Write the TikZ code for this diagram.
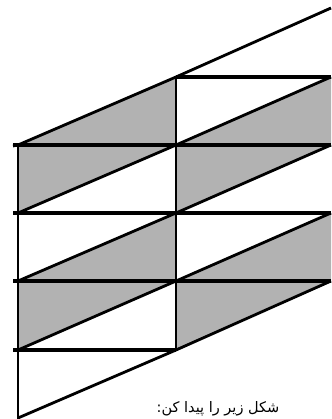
\documentclass[tikz,border=0pt]{standalone}
\usepackage{fontspec}
\newfontfamily\persianfont[Script=Arabic]{DejaVu Sans}
\TeXXeTstate=1
\usepackage{tikz}

\begin{document}
\begin{tikzpicture}[x=1pt, y=-1pt,
  rung/.style={line width=3.6pt},
  slant/.style={line width=2.8pt, line join=round},
  post/.style={line width=2.8pt},
  grain/.style={fill=black!30},
  note/.style={anchor=base, inner sep=0pt, font=\persianfont\fontsize{14.5}{17}\selectfont}]
\useasboundingbox (0,0) rectangle (331,419);
% shaded strips
\fill[grain] (18,145) -- (176,77) -- (176,145) -- (18,213) -- cycle;
\fill[grain] (18,281) -- (176,213) -- (176,281) -- (18,350) -- cycle;
\fill[grain] (176,145) -- (331,77) -- (331,145) -- (176,213) -- cycle;
\fill[grain] (176,281) -- (331,213) -- (331,281) -- (176,350) -- cycle;
% slanted lines
\draw[slant] (13,146) -- (18,145) -- (176,77) -- (331,8);
\draw[slant] (18,213) -- (176,145) -- (331,77); \draw[slant] (18,281) -- (176,213) -- (331,145);
\draw[slant] (18,350) -- (176,281) -- (331,213); \draw[slant] (18,418) -- (176,350) -- (331,281);
% horizontal lines
\draw[rung] (176,77) -- (331,77);
\draw[rung] (13,145) -- (331,145); \draw[rung] (13,213) -- (331,213); \draw[rung] (13,281) -- (331,281);
\draw[rung] (13,350) -- (176,350);
% vertical lines
\draw[post] (18,145) -- (18,420); \draw[post] (176,77) -- (176,350);
\node[note] (task) at (218,412) {\beginR شکل زیر را پیدا کن:\endR};
\end{tikzpicture}
\end{document}
